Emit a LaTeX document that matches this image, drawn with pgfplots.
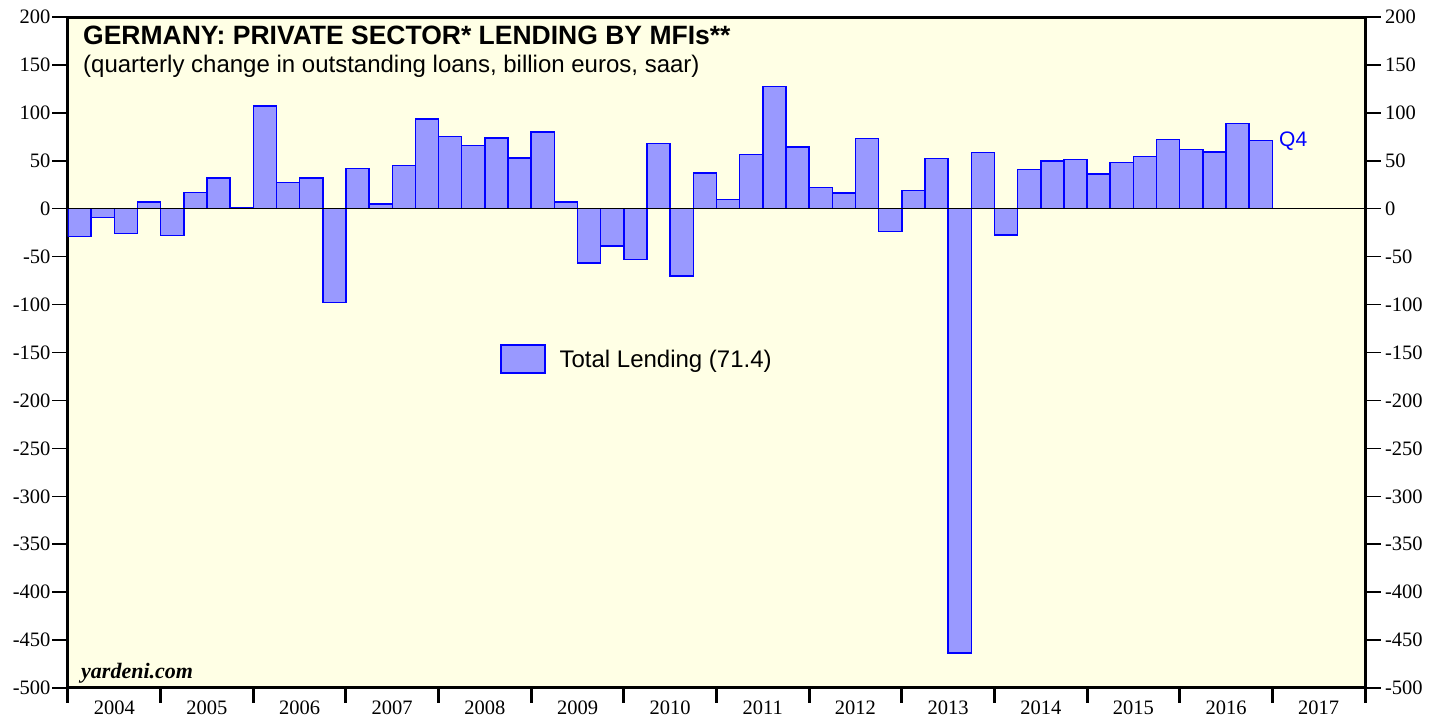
\documentclass[border=0pt]{standalone}
\usepackage{pgfplots}
\pgfplotsset{compat=1.18}
\usepackage{pgfplotstable}
\usepackage{fontspec}
\setmainfont{Liberation Serif}
\newfontfamily\arial{Liberation Sans}
\definecolor{bg}{RGB}{255,255,229}
\definecolor{barfill}{RGB}{153,153,255}
\definecolor{baredge}{RGB}{0,0,255}

\pgfplotstableread{
x y
2004.125 -29
2004.375 -9
2004.625 -26
2004.875 7
2005.125 -28
2005.375 17
2005.625 32
2005.875 0.5
2006.125 107
2006.375 27.5
2006.625 32
2006.875 -98
2007.125 42
2007.375 5
2007.625 45
2007.875 93.5
2008.125 75.5
2008.375 66
2008.625 73.7
2008.875 53
2009.125 80
2009.375 7
2009.625 -56.6
2009.875 -39
2010.125 -53
2010.375 67.8
2010.625 -70.3
2010.875 37
2011.125 9.4
2011.375 56.4
2011.625 127.7
2011.875 64.4
2012.125 22
2012.375 16.4
2012.625 73
2012.875 -24
2013.125 19.2
2013.375 52.6
2013.625 -463.5
2013.875 58.5
2014.125 -27.4
2014.375 40.7
2014.625 50
2014.875 51.4
2015.125 36
2015.375 48.3
2015.625 54.6
2015.875 72
2016.125 62
2016.375 59
2016.625 89
2016.875 71.4
}\lending

\begin{document}
\begin{tikzpicture}
\useasboundingbox (-68pt,-29pt) rectangle (1372pt,688pt);
\pgfplotsset{common/.style={
  scale only axis, width=1297pt, height=671pt, at={(0pt,0pt)}, anchor=south west,
  xmin=2004, xmax=2018, ymin=-500, ymax=200,
  ytick={-500,-450,-400,-350,-300,-250,-200,-150,-100,-50,0,50,100,150,200},
  tick align=outside,
  /pgf/number format/assume math mode=true,
  tick label style={font=\fontsize{20.5}{24}\selectfont},
  major tick length=16pt,
  y tick style={line width=1.5pt, black},
}}
\begin{axis}[common,
  axis background/.style={fill=bg},
  axis line style={line width=3pt},
  xtick={2004.5,2005.5,2006.5,2007.5,2008.5,2009.5,2010.5,2011.5,2012.5,2013.5,2014.5,2015.5,2016.5,2017.5},
  xticklabels={2004,2005,2006,2007,2008,2009,2010,2011,2012,2013,2014,2015,2016,2017},
  major x tick style={draw=none},
  minor xtick={2004,2005,2006,2007,2008,2009,2010,2011,2012,2013,2014,2015,2016,2017,2018},
  minor tick length=15pt,
  minor x tick style={line width=3pt, black},
  xtick pos=bottom, ytick pos=left,
  xticklabel style={yshift=7pt},
  yticklabel style={inner xsep=1.5pt},
  ybar, bar width=0.25, bar shift=0pt,
  legend style={at={(0.333,0.49)}, anchor=west, draw=none, fill=none,
    inner sep=0pt, column sep=14pt, nodes={inner sep=0pt},
    font=\arial\fontsize{24}{28}\selectfont},
]
\addplot[fill=barfill, draw=baredge, line width=1.5pt,
  legend image code/.code={\draw[fill=barfill, draw=baredge, line width=1.5pt] (0pt,-14pt) rectangle (44pt,14pt);}]
  table[x=x, y=y] {\lending};
\addlegendentry{Total Lending (71.4)}
\draw[black, line width=1pt] (axis cs:2004,0) -- (axis cs:2018,0);
\end{axis}
\begin{axis}[common,
  hide x axis,
  axis y line*=right,
  axis line style={draw=none},
  ytick pos=right, yticklabel pos=right,
  yticklabel style={inner xsep=4pt},
]
\end{axis}
\node[anchor=base west, font=\arial\bfseries\fontsize{26.5}{30}\selectfont, inner sep=0pt] at (15pt,643pt) {GERMANY: PRIVATE SECTOR* LENDING BY MFIs**};
\node[anchor=base west, font=\arial\fontsize{24}{28}\selectfont, inner sep=0pt] at (15pt,615pt) {(quarterly change in outstanding loans, billion euros, saar)};
\node[anchor=base west, text=baredge, font=\arial\fontsize{21}{24}\selectfont, inner sep=0pt] at (1211pt,541pt) {Q4};
\node[anchor=base west, font=\bfseries\itshape\fontsize{22}{26}\selectfont, inner sep=0pt] at (13pt,9pt) {yardeni.com};
\end{tikzpicture}
\end{document}
